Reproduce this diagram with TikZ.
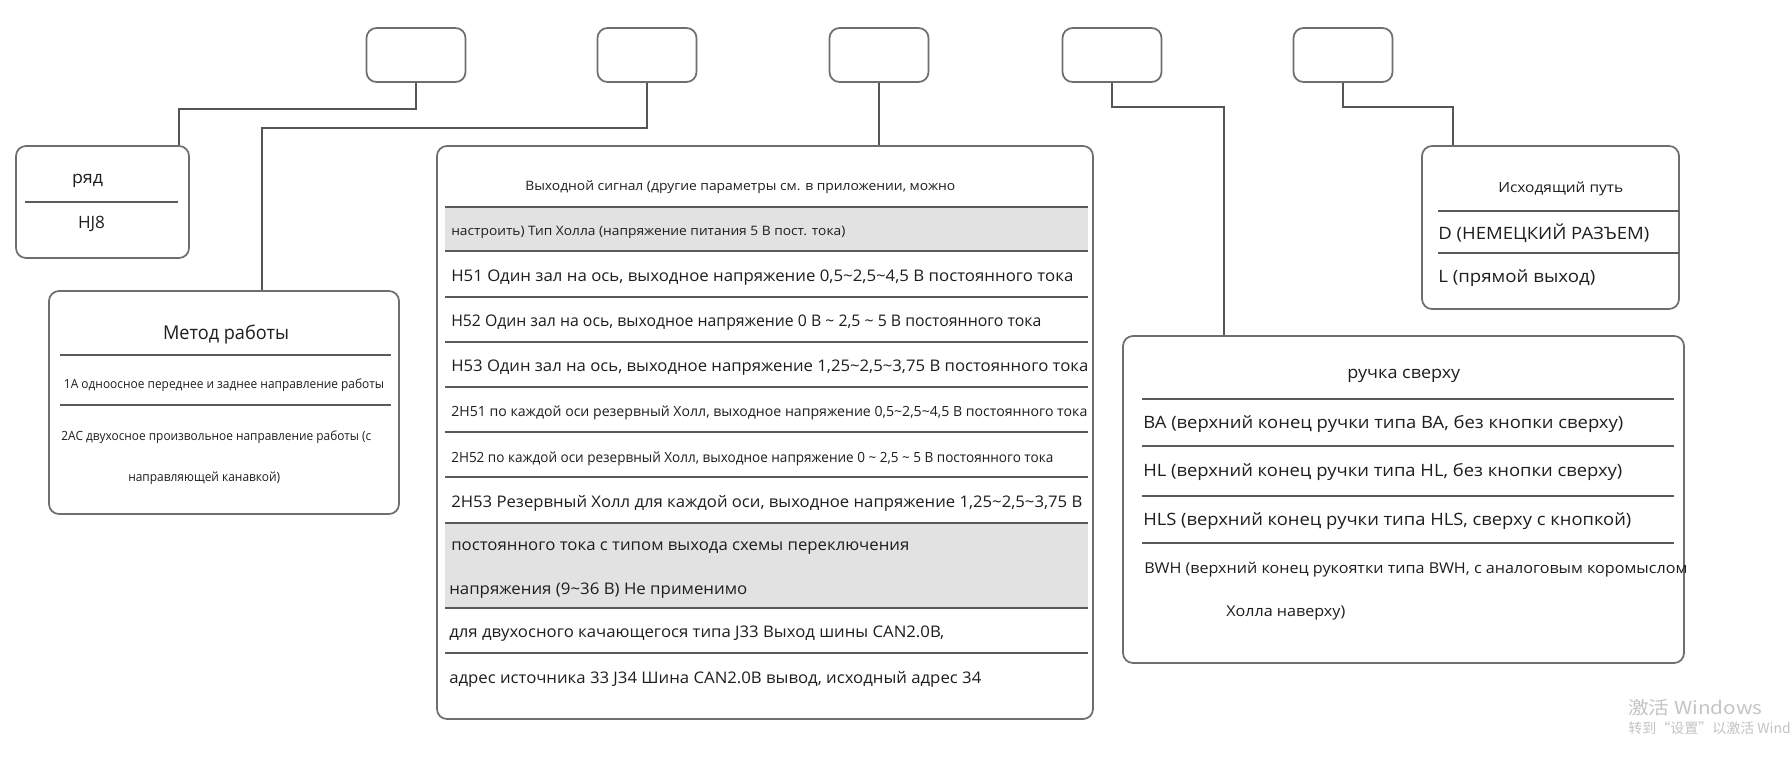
\documentclass[tikz,border=0pt]{standalone}
\usepackage{fontspec}
\setmainfont{Open Sans}
\newfontfamily\cjk{Noto Sans CJK SC}
\usepackage{graphicx}
\newlength\upx \setlength\upx{0.75pt}
\newcommand\tw[2]{\resizebox{#1\upx}{\height}{#2}}
\newcommand\fsz[1]{\fontsize{#1}{#1}\selectfont}
\definecolor{bordercol}{HTML}{6E6E6E}
\definecolor{sepcol}{HTML}{5A5A5A}
\definecolor{linecol}{HTML}{555555}
\definecolor{txt}{HTML}{1E1E1E}
\definecolor{band}{HTML}{E2E2E2}
\definecolor{wm}{HTML}{C4C4C4}
\tikzset{
  box/.style={draw=bordercol, line width=1.3pt, rounded corners=7.5pt, rectangle, inner sep=0pt},
  topbox/.style={box, minimum width=74.25pt, minimum height=40.5pt},
  conn/.style={draw=linecol, line width=1.1pt},
  sepline/.style={draw=sepcol, line width=1.2pt},
  tl/.style={inner sep=0pt, anchor=west, text=txt, yshift=-2.2pt},
  tc/.style={inner sep=0pt, text=txt, yshift=-2.2pt},
  tl0/.style={inner sep=0pt, anchor=west, text=txt},
}
\begin{document}
\begin{tikzpicture}[x=0.75pt, y=-0.75pt]
\useasboundingbox (0,0) rectangle (1790,758);
\fill[white] (0,0) rectangle (1790,758);

% top boxes
\node[topbox] (b1) at (416,55) {};
\node[topbox] (b2) at (647,55) {};
\node[topbox] (b3) at (879,55) {};
\node[topbox] (b4) at (1112,55) {};
\node[topbox] (b5) at (1343,55) {};

% main boxes
\node[box, minimum width=129.75pt, minimum height=84pt] (ryad) at (102.5,202) {};
\node[box, minimum width=262.5pt, minimum height=167.25pt] (metod) at (224,402.5) {};
\node[box, minimum width=492pt, minimum height=429.75pt] (out) at (765,432.5) {};
\node[box, minimum width=192.75pt, minimum height=122.25pt] (path) at (1550.5,227.5) {};
\node[box, minimum width=420.75pt, minimum height=245.25pt] (handle) at (1403.5,499.5) {};

% connectors
\coordinate (j1) at (179,109);
\coordinate (j2) at (262,128);
\coordinate (j4) at (1224,107);
\coordinate (j5) at (1453,107);
\draw[conn] (b1.south) |- (j1) -- (j1 |- ryad.north);
\draw[conn] (b2.south) |- (j2) -- (j2 |- metod.north);
\draw[conn] (b3.south) -- (b3.south |- out.north);
\draw[conn] (b4.south) |- (j4) -- (j4 |- handle.north);
\draw[conn] (b5.south) |- (j5) -- (j5 |- path.north);

% ryad box
\draw[sepline] (25,202) -- (178,202);
\node[tc] (ryadt) at (87.5,178) {\fsz{12.75}\tw{31}{ряд}};
\node[tc] (hj8) at (91.5,221) {\fsz{12.75}\tw{27}{HJ8}};

% metod box
\node[tc] (metodt) at (226,332) {\fsz{14.25}\tw{126}{Метод работы}};
\draw[sepline] (60,355) -- (391,355);
\node[tc] (m1) at (224,382) {\fsz{9.5}\tw{320}{1А одноосное переднее и заднее направление работы}};
\draw[sepline] (60,405) -- (391,405);
\node[tl] (m2) at (61,434) {\fsz{9.5}\tw{310}{2АС двухосное произвольное направление работы (с}};
\node[tl] (m3) at (128,475) {\fsz{9.5}\tw{152}{направляющей канавкой)}};

% output signal box
\fill[band] (445,207) rectangle (1088,251);
\fill[band] (445,523) rectangle (1088,608);
\foreach \yy in {207,251,297,342,387,432,477,523,608,653}
  \draw[sepline] (445,\yy) -- (1088,\yy);
\node[tl] (o0) at (525,184) {\fsz{9.75}\tw{430}{Выходной сигнал (другие параметры см. в приложении, можно}};
\node[tl] (o1) at (451,229.5) {\fsz{9.75}\tw{394}{настроить) Тип Холла (напряжение питания 5 В пост. тока)}};
\node[tl] (o2) at (451,275) {\fsz{12}\tw{622}{H51 Один зал на ось, выходное напряжение 0,5\textasciitilde2,5\textasciitilde4,5 В постоянного тока}};
\node[tl] (o3) at (451,320) {\fsz{12}\tw{590}{H52 Один зал на ось, выходное напряжение 0 В \textasciitilde{} 2,5 \textasciitilde{} 5 В постоянного тока}};
\node[tl] (o4) at (451,365) {\fsz{12}\tw{637}{H53 Один зал на ось, выходное напряжение 1,25\textasciitilde2,5\textasciitilde3,75 В постоянного тока}};
\node[tl] (o5) at (451,410) {\fsz{10.5}\tw{636}{2H51 по каждой оси резервный Холл, выходное напряжение 0,5\textasciitilde2,5\textasciitilde4,5 В постоянного тока}};
\node[tl] (o6) at (451,455.5) {\fsz{10.5}\tw{602}{2H52 по каждой оси резервный Холл, выходное напряжение 0 \textasciitilde{} 2,5 \textasciitilde{} 5 В постоянного тока}};
\node[tl] (o7) at (451,500) {\fsz{12}\tw{631}{2H53 Резервный Холл для каждой оси, выходное напряжение 1,25\textasciitilde2,5\textasciitilde3,75 В}};
\node[tl] (o8) at (451,545) {\fsz{12}\tw{458}{постоянного тока с типом выхода схемы переключения}};
\node[tl] (o9) at (449,588) {\fsz{12}\tw{298}{напряжения (9\textasciitilde36 В) Не применимо}};
\node[tl] (o10) at (449,631) {\fsz{12}\tw{495}{для двухосного качающегося типа J33 Выход шины CAN2.0B,}};
\node[tl] (o11) at (449,676) {\fsz{12}\tw{532}{адрес источника 33 J34 Шина CAN2.0B вывод, исходный адрес 34}};

% outgoing path box
\node[tl] (p0) at (1498,186) {\fsz{10.5}\tw{125}{Исходящий путь}};
\draw[sepline] (1438,211) -- (1679,211);
\node[tl0] (p1) at (1438,233) {\fsz{12.75}\tw{211}{D (НЕМЕЦКИЙ РАЗЪЕМ)}};
\draw[sepline] (1438,253) -- (1679,253);
\node[tl0] (p2) at (1438,278) {\fsz{12.75}\tw{157}{L (прямой выход)}};

% handle box
\node[tl] (h0) at (1347,373) {\fsz{12.75}\tw{113}{ручка сверху}};
\foreach \yy in {399,446,496,543}
  \draw[sepline] (1142,\yy) -- (1674,\yy);
\node[tl] (h1) at (1143,421) {\fsz{12.75}\tw{480}{BA (верхний конец ручки типа BA, без кнопки сверху)}};
\node[tl] (h2) at (1143,469) {\fsz{12.75}\tw{479}{HL (верхний конец ручки типа HL, без кнопки сверху)}};
\node[tl] (h3) at (1143,518) {\fsz{12.75}\tw{488}{HLS (верхний конец ручки типа HLS, сверху с кнопкой)}};
\node[tl] (h4) at (1144,567) {\fsz{11.25}\tw{543}{BWH (верхний конец рукоятки типа BWH, с аналоговым коромыслом}};
\node[tl] (h5) at (1226,610) {\fsz{11.25}\tw{119}{Холла наверху)}};

% watermark
\node[inner sep=0pt, anchor=west, text=wm] (wm1) at (1628,708) {\cjk\fsz{13.5}\tw{134}{激活 Windows}};
\node[inner sep=0pt, anchor=west, text=wm] (wm2) at (1628,728) {\cjk\fsz{10.5}转到“设置”以激活 Windows。};
\end{tikzpicture}
\end{document}
